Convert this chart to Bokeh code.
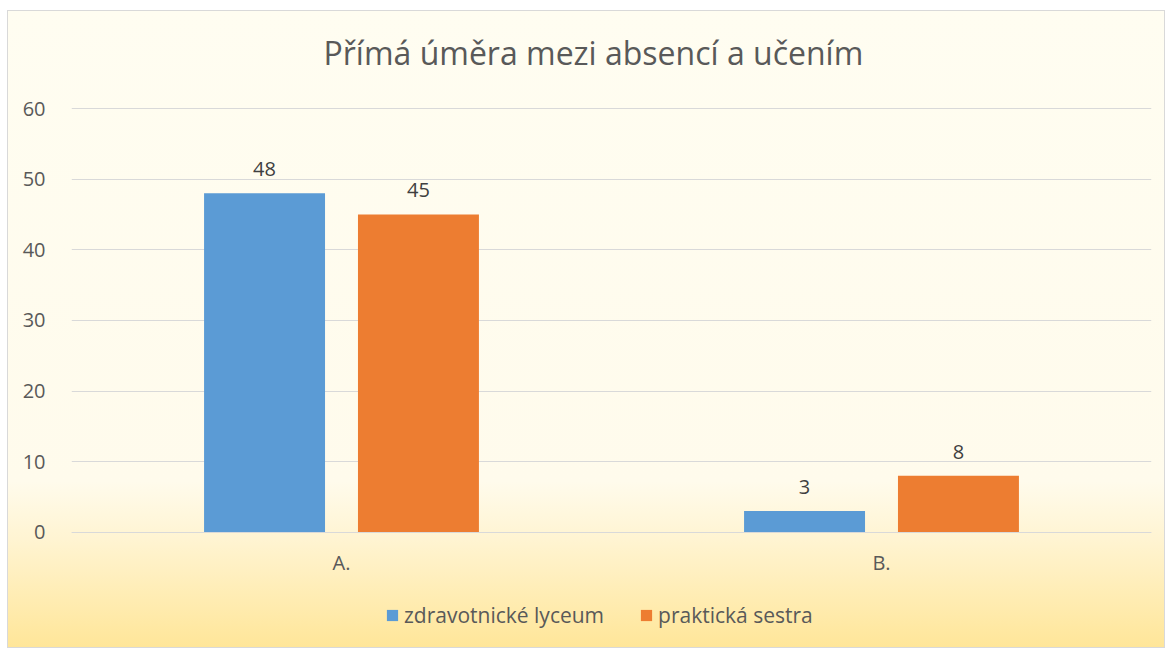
from bokeh.plotting import figure
from bokeh.models import ColumnDataSource, Legend, LegendItem, FactorRange, Range1d
from bokeh.transform import dodge
from bokeh.core.properties import value
from bokeh.embed import file_html
from bokeh.resources import INLINE

categories = ["A.", "B."]
series_names = ["zdravotnické lyceum", "praktická sestra"]
lyceum = [48, 3]
sestra = [45, 8]
y_ticks = [0, 10, 20, 30, 40, 50, 60]
colors = ["#5B9BD5", "#ED7D31"]
title_text = "Přímá úměra mezi absencí a učením"

FONT = "Open Sans"

src = ColumnDataSource(dict(cat=categories, lyceum=lyceum, sestra=sestra,
                            lyceum_txt=[str(v) for v in lyceum],
                            sestra_txt=[str(v) for v in sestra]))

# frame extends beyond the 0..60 gridlines so that the axis labels and legend
# sit on the chart's gradient area; the x axis is pinned at y = 0
p = figure(width=1158, height=638, output_backend="svg", toolbar_location=None,
           x_range=FactorRange(*categories, range_padding=0), y_range=Range1d(-16.03, 62.41),
           title=title_text, min_border_left=63, min_border_right=15,
           min_border_top=0, min_border_bottom=4, margin=(10, 0, 0, 7),
           styles={"background": "linear-gradient(to bottom, #FFFDF1 0%, #FFFBEC 74%, #FFF4D2 83%, #FFE699 100%)",
                   "border": "1px solid #D9D9D9"})
p.border_fill_color = None
p.background_fill_color = None
p.outline_line_color = None

p.title.align = "left"
p.title.offset = 252
p.title.text_font = FONT
p.title.text_font_size = "32px"
p.title.text_font_style = "normal"
p.title.text_color = "#595959"
p.title.standoff = 35

bw = 0.224
off = 0.1425
r1 = p.vbar(x=dodge("cat", -off, range=p.x_range), top="lyceum", width=bw, source=src,
            fill_color=colors[0], line_color=None)
r2 = p.vbar(x=dodge("cat", off, range=p.x_range), top="sestra", width=bw, source=src,
            fill_color=colors[1], line_color=None)

for col, o in (("lyceum", -off), ("sestra", off)):
    p.text(x=dodge("cat", o, range=p.x_range), y=col, text=col + "_txt", source=src,
           text_align="center", text_baseline="bottom", y_offset=-17,
           text_font=value(FONT), text_font_size="20px", text_color="#404040")

p.yaxis.ticker = y_ticks
p.ygrid.grid_line_color = "#D9D9D9"
p.ygrid.grid_line_width = 1
p.xgrid.grid_line_color = None
p.yaxis.axis_line_color = None
p.yaxis.major_tick_line_color = None
p.yaxis.minor_tick_line_color = None
p.yaxis.major_label_standoff = 20
p.yaxis.major_label_text_font = FONT
p.yaxis.major_label_text_font_size = "20px"
p.yaxis.major_label_text_color = "#595959"

p.xaxis.fixed_location = 0
p.xaxis.axis_line_color = "#D9D9D9"
p.xaxis.major_tick_line_color = None
p.xaxis.minor_tick_line_color = None
p.xaxis.major_label_standoff = 11
p.xaxis.major_label_text_font = FONT
p.xaxis.major_label_text_font_size = "20px"
p.xaxis.major_label_text_color = "#595959"

legend = Legend(items=[LegendItem(label=series_names[0], renderers=[r1]),
                       LegendItem(label=series_names[1], renderers=[r2])],
                orientation="horizontal", location=(314, 16))
legend.background_fill_alpha = 0
legend.border_line_color = None
legend.label_text_font = FONT
legend.label_text_font_size = "21px"
legend.label_text_color = "#595959"
legend.glyph_width = 14
legend.glyph_height = 14
legend.label_standoff = 5
legend.spacing = 35
legend.padding = 0
legend.margin = 0
p.add_layout(legend)

open("out.html", "w").write(file_html(p, INLINE))
